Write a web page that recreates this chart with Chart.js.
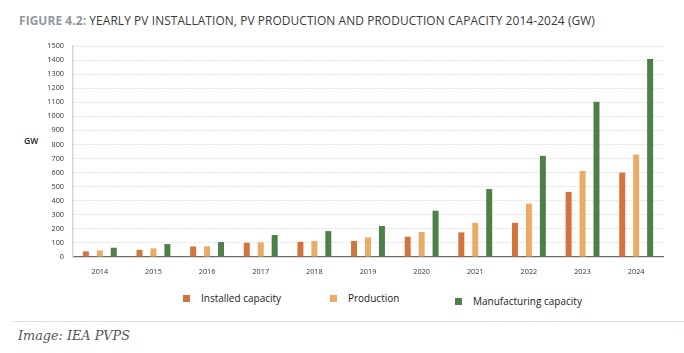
<!DOCTYPE html>
<html>
<head>
<meta charset="utf-8">
<script src="https://cdn.jsdelivr.net/npm/chart.js@4.4.1/dist/chart.umd.min.js"></script>
<style>
  html, body { margin: 0; padding: 0; background: #fff; }
  body { width: 684px; height: 353px; position: relative; overflow: hidden; }
  #title {
    position: absolute; left: 19px; top: 12px;
    font-family: "Liberation Sans Narrow", "Open Sans", sans-serif;
    font-size: 11.9px; color: #3a3a3a; white-space: nowrap; letter-spacing: 0.1px;
  }
  #title b { color: #8e979d; }
  #gw {
    position: absolute; left: 24px; top: 135px;
    font-family: "Open Sans", sans-serif; font-size: 8.5px; font-weight: 600; color: #222;
  }
  #chartBox { position: absolute; left: 0; top: 0; width: 684px; height: 285px; }
  #legend { position: absolute; left: 0; top: 291px; width: 684px; height: 16px; }
  .lg-item { position: absolute; display: flex; align-items: center; font-family: "Open Sans", sans-serif; font-size: 10px; color: #222; }
  .lg-box { width: 7px; height: 7px; margin-right: 11px; }
  #rule { position: absolute; left: 13px; right: 0; top: 321px; height: 1px; background: #dbe0e4; }
  #caption {
    position: absolute; left: 18px; top: 328px;
    font-family: "DejaVu Serif", serif; font-style: italic; font-size: 12.8px; color: #555;
  }
</style>
</head>
<body>
<div id="title"><b>FIGURE 4.2:</b> YEARLY PV INSTALLATION, PV PRODUCTION AND PRODUCTION CAPACITY 2014-2024 (GW)</div>
<div id="gw">GW</div>
<div id="chartBox"><canvas id="pvChart"></canvas></div>
<div id="legend"></div>
<div id="rule"></div>
<div id="caption">Image: IEA PVPS</div>
<script>
// --- DATA (GW) ---
const years = ['2014', '2015', '2016', '2017', '2018', '2019', '2020', '2021', '2022', '2023', '2024'];
const installedCapacity = [40, 51, 75, 101, 108, 114, 144, 175, 243, 463, 600];
const production = [46, 61, 76, 104, 113, 139, 177, 243, 380, 612, 728];
const manufacturingCapacity = [66, 92, 106, 156, 184, 220, 329, 483, 719, 1103, 1408];
const yTicks = [0, 100, 200, 300, 400, 500, 600, 700, 800, 900, 1000, 1100, 1200, 1300, 1400, 1500];

const seriesNames = ['Installed capacity', 'Production', 'Manufacturing capacity'];
const seriesColors = ['#d4743d', '#e9ab66', '#4f7f48'];

// posisi legenda (x kiri kotak) dan geser vertikal kecil item ketiga
const legendPos = [{ x: 183, y: 0 }, { x: 330, y: 0 }, { x: 455, y: 3 }];

// --- LEGENDA HTML ---
const htmlLegend = {
    id: 'htmlLegend',
    afterUpdate(chart) {
        const box = document.getElementById('legend');
        box.innerHTML = '';
        const items = chart.options.plugins.legend.labels.generateLabels(chart);
        items.forEach((item, i) => {
            const el = document.createElement('div');
            el.className = 'lg-item';
            el.style.left = legendPos[i].x + 'px';
            el.style.top = legendPos[i].y + 'px';
            const sw = document.createElement('span');
            sw.className = 'lg-box';
            sw.style.background = item.fillStyle;
            const tx = document.createElement('span');
            tx.textContent = item.text;
            el.appendChild(sw);
            el.appendChild(tx);
            box.appendChild(el);
        });
    }
};

const ctx = document.getElementById('pvChart').getContext('2d');
new Chart(ctx, {
    type: 'bar',
    data: {
        labels: years,
        datasets: [
            { label: seriesNames[0], data: installedCapacity, backgroundColor: seriesColors[0] },
            { label: seriesNames[1], data: production, backgroundColor: seriesColors[1] },
            { label: seriesNames[2], data: manufacturingCapacity, backgroundColor: seriesColors[2] }
        ]
    },
    options: {
        responsive: true,
        maintainAspectRatio: false,
        animation: false,
        categoryPercentage: 0.78,
        barPercentage: 0.43,
        layout: { padding: { top: 46, left: 0, right: 21, bottom: 0 } },
        plugins: {
            legend: { display: false },
            title: { display: false },
            tooltip: { enabled: false }
        },
        scales: {
            x: {
                grid: { display: false, drawTicks: false },
                border: { display: true, color: '#6b6b6b', width: 1.2 },
                ticks: { color: '#333', padding: 11, font: { family: 'Open Sans', size: 7.3 } },
                afterFit: (scale) => { scale.height = 28; }
            },
            y: {
                min: 0,
                max: 1500,
                afterBuildTicks: (scale) => { scale.ticks = yTicks.map(v => ({ value: v })); },
                afterFit: (scale) => { scale.width = 73; },
                grid: {
                    drawTicks: false,
                    lineWidth: 1,
                    color: (c) => c.tick && c.tick.value === 0 ? 'rgba(0,0,0,0)' : '#c9c9c9'
                },
                border: { display: true, color: '#d6d6d6', width: 1.5, dash: [1, 2] },
                ticks: {
                    color: '#333',
                    padding: 9,
                    font: { family: 'Open Sans', size: 7.3 },
                    callback: (value) => String(value)
                }
            }
        }
    },
    plugins: [htmlLegend]
});
</script>
</body>
</html>
